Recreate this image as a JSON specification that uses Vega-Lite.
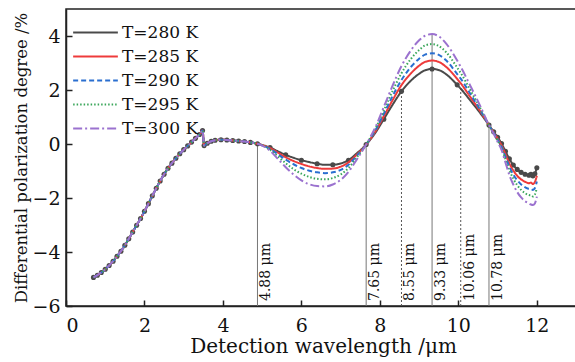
{
  "$schema": "https://vega.github.io/schema/vega-lite/v6.json",
  "width": 514,
  "height": 297,
  "autosize": {"type": "none"},
  "padding": {"left": 66, "top": 9, "right": 0, "bottom": 56},
  "config": {
    "font": "DejaVu Serif",
    "view": {"stroke": "#222", "strokeWidth": 1.5},
    "axis": {"grid": false, "domainColor": "#222", "domainWidth": 1.5, "tickColor": "#222", "tickWidth": 1.5, "labelColor": "#111", "titleColor": "#111", "labelFont": "DejaVu Serif", "titleFont": "DejaVu Serif", "labelFontSize": 19, "titleFontWeight": "normal", "tickSize": -6},
    "legend": {"labelFont": "DejaVu Serif"},
    "text": {"font": "DejaVu Serif"}
  },
  "datasets": {
    "curves": [
      {"x": 0.70, "m": 1, "t280": -4.94, "t285": -4.94, "t290": -4.94, "t295": -4.94, "t300": -4.94},
      {"x": 0.80, "m": 1, "t280": -4.86, "t285": -4.86, "t290": -4.86, "t295": -4.86, "t300": -4.86},
      {"x": 0.90, "m": 1, "t280": -4.76, "t285": -4.76, "t290": -4.76, "t295": -4.76, "t300": -4.76},
      {"x": 1.00, "m": 1, "t280": -4.64, "t285": -4.64, "t290": -4.64, "t295": -4.64, "t300": -4.64},
      {"x": 1.10, "m": 1, "t280": -4.50, "t285": -4.50, "t290": -4.50, "t295": -4.50, "t300": -4.50},
      {"x": 1.20, "m": 1, "t280": -4.34, "t285": -4.34, "t290": -4.34, "t295": -4.34, "t300": -4.34},
      {"x": 1.30, "m": 1, "t280": -4.16, "t285": -4.16, "t290": -4.16, "t295": -4.16, "t300": -4.16},
      {"x": 1.40, "m": 1, "t280": -3.97, "t285": -3.97, "t290": -3.97, "t295": -3.97, "t300": -3.97},
      {"x": 1.50, "m": 1, "t280": -3.75, "t285": -3.75, "t290": -3.75, "t295": -3.75, "t300": -3.75},
      {"x": 1.60, "m": 1, "t280": -3.51, "t285": -3.51, "t290": -3.51, "t295": -3.51, "t300": -3.51},
      {"x": 1.70, "m": 1, "t280": -3.26, "t285": -3.26, "t290": -3.26, "t295": -3.26, "t300": -3.26},
      {"x": 1.80, "m": 1, "t280": -3.01, "t285": -3.01, "t290": -3.01, "t295": -3.01, "t300": -3.01},
      {"x": 1.90, "m": 1, "t280": -2.76, "t285": -2.76, "t290": -2.76, "t295": -2.76, "t300": -2.76},
      {"x": 2.00, "m": 1, "t280": -2.49, "t285": -2.49, "t290": -2.49, "t295": -2.49, "t300": -2.49},
      {"x": 2.10, "m": 1, "t280": -2.21, "t285": -2.21, "t290": -2.21, "t295": -2.21, "t300": -2.21},
      {"x": 2.20, "m": 1, "t280": -1.92, "t285": -1.92, "t290": -1.92, "t295": -1.92, "t300": -1.92},
      {"x": 2.30, "m": 1, "t280": -1.64, "t285": -1.64, "t290": -1.64, "t295": -1.64, "t300": -1.64},
      {"x": 2.40, "m": 1, "t280": -1.37, "t285": -1.37, "t290": -1.37, "t295": -1.37, "t300": -1.37},
      {"x": 2.50, "m": 1, "t280": -1.12, "t285": -1.12, "t290": -1.12, "t295": -1.12, "t300": -1.12},
      {"x": 2.60, "m": 1, "t280": -0.90, "t285": -0.90, "t290": -0.90, "t295": -0.90, "t300": -0.90},
      {"x": 2.70, "m": 1, "t280": -0.71, "t285": -0.71, "t290": -0.71, "t295": -0.71, "t300": -0.71},
      {"x": 2.80, "m": 1, "t280": -0.53, "t285": -0.53, "t290": -0.53, "t295": -0.53, "t300": -0.53},
      {"x": 2.90, "m": 1, "t280": -0.36, "t285": -0.36, "t290": -0.36, "t295": -0.36, "t300": -0.36},
      {"x": 3.00, "m": 1, "t280": -0.21, "t285": -0.21, "t290": -0.21, "t295": -0.21, "t300": -0.21},
      {"x": 3.10, "m": 1, "t280": -0.07, "t285": -0.07, "t290": -0.07, "t295": -0.07, "t300": -0.07},
      {"x": 3.20, "m": 1, "t280": 0.07, "t285": 0.07, "t290": 0.07, "t295": 0.07, "t300": 0.07},
      {"x": 3.30, "m": 1, "t280": 0.21, "t285": 0.21, "t290": 0.21, "t295": 0.21, "t300": 0.21},
      {"x": 3.40, "m": 1, "t280": 0.35, "t285": 0.35, "t290": 0.35, "t295": 0.35, "t300": 0.35},
      {"x": 3.48, "m": 1, "t280": 0.50, "t285": 0.50, "t290": 0.50, "t295": 0.50, "t300": 0.50},
      {"x": 3.52, "m": 1, "t280": -0.06, "t285": -0.06, "t290": -0.06, "t295": -0.06, "t300": -0.06},
      {"x": 3.60, "m": 1, "t280": 0.03, "t285": 0.03, "t290": 0.03, "t295": 0.03, "t300": 0.03},
      {"x": 3.70, "m": 1, "t280": 0.10, "t285": 0.10, "t290": 0.10, "t295": 0.10, "t300": 0.10},
      {"x": 3.80, "m": 1, "t280": 0.14, "t285": 0.14, "t290": 0.14, "t295": 0.14, "t300": 0.14},
      {"x": 3.95, "m": 1, "t280": 0.16, "t285": 0.16, "t290": 0.16, "t295": 0.16, "t300": 0.16},
      {"x": 4.10, "m": 1, "t280": 0.15, "t285": 0.15, "t290": 0.15, "t295": 0.15, "t300": 0.15},
      {"x": 4.25, "m": 1, "t280": 0.13, "t285": 0.13, "t290": 0.13, "t295": 0.13, "t300": 0.13},
      {"x": 4.40, "m": 1, "t280": 0.11, "t285": 0.11, "t290": 0.11, "t295": 0.11, "t300": 0.11},
      {"x": 4.55, "m": 1, "t280": 0.09, "t285": 0.09, "t290": 0.09, "t295": 0.09, "t300": 0.09},
      {"x": 4.70, "m": 1, "t280": 0.06, "t285": 0.06, "t290": 0.06, "t295": 0.06, "t300": 0.06},
      {"x": 4.88, "m": 1, "t280": 0.01, "t285": 0.01, "t290": 0.01, "t295": 0.01, "t300": 0.01},
      {"x": 5.0, "m": 0, "t280": -0.04, "t285": -0.04, "t290": -0.05, "t295": -0.05, "t300": -0.06},
      {"x": 5.2, "m": 1, "t280": -0.13, "t285": -0.15, "t290": -0.18, "t295": -0.21, "t300": -0.25},
      {"x": 5.4, "m": 0, "t280": -0.27, "t285": -0.32, "t290": -0.38, "t295": -0.46, "t300": -0.55},
      {"x": 5.6, "m": 1, "t280": -0.40, "t285": -0.49, "t290": -0.58, "t295": -0.71, "t300": -0.86},
      {"x": 5.8, "m": 0, "t280": -0.51, "t285": -0.63, "t290": -0.75, "t295": -0.93, "t300": -1.13},
      {"x": 6.0, "m": 1, "t280": -0.60, "t285": -0.74, "t290": -0.89, "t295": -1.10, "t300": -1.35},
      {"x": 6.2, "m": 0, "t280": -0.67, "t285": -0.83, "t290": -0.99, "t295": -1.22, "t300": -1.49},
      {"x": 6.4, "m": 1, "t280": -0.73, "t285": -0.89, "t290": -1.05, "t295": -1.29, "t300": -1.56},
      {"x": 6.6, "m": 0, "t280": -0.77, "t285": -0.92, "t290": -1.08, "t295": -1.31, "t300": -1.57},
      {"x": 6.8, "m": 1, "t280": -0.77, "t285": -0.91, "t290": -1.05, "t295": -1.26, "t300": -1.50},
      {"x": 7.0, "m": 0, "t280": -0.72, "t285": -0.84, "t290": -0.96, "t295": -1.13, "t300": -1.33},
      {"x": 7.2, "m": 1, "t280": -0.60, "t285": -0.68, "t290": -0.77, "t295": -0.89, "t300": -1.03},
      {"x": 7.4, "m": 0, "t280": -0.36, "t285": -0.41, "t290": -0.45, "t295": -0.52, "t300": -0.60},
      {"x": 7.65, "m": 1, "t280": -0.02, "t285": -0.02, "t290": -0.02, "t295": -0.02, "t300": -0.02},
      {"x": 7.9, "m": 0, "t280": 0.45, "t285": 0.50, "t290": 0.55, "t295": 0.61, "t300": 0.67},
      {"x": 8.1, "m": 1, "t280": 0.92, "t285": 1.03, "t290": 1.12, "t295": 1.24, "t300": 1.37},
      {"x": 8.3, "m": 0, "t280": 1.40, "t285": 1.56, "t290": 1.71, "t295": 1.89, "t300": 2.08},
      {"x": 8.55, "m": 1, "t280": 1.95, "t285": 2.18, "t290": 2.37, "t295": 2.62, "t300": 2.89},
      {"x": 8.8, "m": 0, "t280": 2.36, "t285": 2.63, "t290": 2.87, "t295": 3.17, "t300": 3.49},
      {"x": 9.0, "m": 0, "t280": 2.60, "t285": 2.90, "t290": 3.16, "t295": 3.48, "t300": 3.84},
      {"x": 9.15, "m": 0, "t280": 2.73, "t285": 3.04, "t290": 3.31, "t295": 3.65, "t300": 4.01},
      {"x": 9.33, "m": 1, "t280": 2.78, "t285": 3.09, "t290": 3.36, "t295": 3.70, "t300": 4.07},
      {"x": 9.5, "m": 0, "t280": 2.74, "t285": 3.04, "t290": 3.30, "t295": 3.63, "t300": 3.99},
      {"x": 9.7, "m": 0, "t280": 2.57, "t285": 2.84, "t290": 3.08, "t295": 3.38, "t300": 3.70},
      {"x": 9.97, "m": 1, "t280": 2.19, "t285": 2.41, "t290": 2.59, "t295": 2.83, "t300": 3.09},
      {"x": 10.06, "m": 0, "t280": 2.05, "t285": 2.25, "t290": 2.42, "t295": 2.63, "t300": 2.86},
      {"x": 10.3, "m": 0, "t280": 1.62, "t285": 1.75, "t290": 1.87, "t295": 2.01, "t300": 2.17},
      {"x": 10.55, "m": 0, "t280": 1.16, "t285": 1.23, "t290": 1.28, "t295": 1.35, "t300": 1.43},
      {"x": 10.78, "m": 1, "t280": 0.70, "t285": 0.70, "t290": 0.70, "t295": 0.70, "t300": 0.70},
      {"x": 10.9, "m": 1, "t280": 0.45, "t285": 0.43, "t290": 0.42, "t295": 0.40, "t300": 0.38},
      {"x": 11.0, "m": 1, "t280": 0.25, "t285": 0.20, "t290": 0.17, "t295": 0.13, "t300": 0.08},
      {"x": 11.1, "m": 1, "t280": 0.02, "t285": -0.05, "t290": -0.10, "t295": -0.15, "t300": -0.22},
      {"x": 11.2, "m": 1, "t280": -0.27, "t285": -0.38, "t290": -0.47, "t295": -0.56, "t300": -0.68},
      {"x": 11.3, "m": 1, "t280": -0.55, "t285": -0.72, "t290": -0.84, "t295": -0.97, "t300": -1.15},
      {"x": 11.4, "m": 1, "t280": -0.78, "t285": -0.98, "t290": -1.13, "t295": -1.28, "t300": -1.50},
      {"x": 11.5, "m": 1, "t280": -0.94, "t285": -1.18, "t290": -1.34, "t295": -1.53, "t300": -1.78},
      {"x": 11.6, "m": 1, "t280": -1.05, "t285": -1.31, "t290": -1.50, "t295": -1.70, "t300": -1.98},
      {"x": 11.7, "m": 1, "t280": -1.12, "t285": -1.40, "t290": -1.60, "t295": -1.82, "t300": -2.12},
      {"x": 11.8, "m": 1, "t280": -1.16, "t285": -1.45, "t290": -1.66, "t295": -1.89, "t300": -2.20},
      {"x": 11.85, "m": 1, "t280": -1.12, "t285": -1.43, "t290": -1.66, "t295": -1.90, "t300": -2.24},
      {"x": 11.9, "m": 1, "t280": -1.18, "t285": -1.48, "t290": -1.70, "t295": -1.94, "t300": -2.26},
      {"x": 11.95, "m": 1, "t280": -1.10, "t285": -1.41, "t290": -1.63, "t295": -1.87, "t300": -2.20},
      {"x": 12.0, "m": 1, "t280": -0.88, "t285": -1.18, "t290": -1.39, "t295": -1.63, "t300": -1.95}
    ],
    "rules": [
      {"x": 4.88, "bottom": -6, "top": 0.01, "dash": "solid", "label": "4.88 μm"},
      {"x": 7.65, "bottom": -6, "top": -0.02, "dash": "solid", "label": "7.65 μm"},
      {"x": 8.55, "bottom": -6, "top": 1.95, "dash": "dotted", "label": "8.55 μm"},
      {"x": 9.33, "bottom": -6, "top": 4.07, "dash": "solid", "label": "9.33 μm"},
      {"x": 10.06, "bottom": -6, "top": 2.05, "dash": "dotted", "label": "10.06 μm"},
      {"x": 10.78, "bottom": -6, "top": 0.70, "dash": "solid", "label": "10.78 μm"}
    ]
  },
  "layer": [
    {
      "data": {"name": "rules"},
      "transform": [{"filter": "datum.dash == 'solid'"}],
      "mark": {"type": "rule", "color": "#777", "strokeWidth": 1},
      "encoding": {
        "x": {"field": "x", "type": "quantitative"},
        "y": {"field": "bottom", "type": "quantitative"},
        "y2": {"field": "top"}
      }
    },
    {
      "data": {"name": "rules"},
      "transform": [{"filter": "datum.dash == 'dotted'"}],
      "mark": {"type": "rule", "color": "#555", "strokeWidth": 1, "strokeDash": [2, 2]},
      "encoding": {
        "x": {"field": "x", "type": "quantitative"},
        "y": {"field": "bottom", "type": "quantitative"},
        "y2": {"field": "top"}
      }
    },
    {
      "data": {"name": "rules"},
      "mark": {"type": "text", "angle": 270, "align": "left", "baseline": "top", "dx": 5, "dy": 2, "fontSize": 14, "font": "DejaVu Serif", "color": "#111"},
      "encoding": {
        "x": {"field": "x", "type": "quantitative"},
        "y": {"field": "bottom", "type": "quantitative"},
        "text": {"field": "label", "type": "nominal"}
      }
    },
    {
      "data": {"name": "curves"},
      "transform": [
        {"fold": ["t280", "t285", "t290", "t295", "t300"], "as": ["T", "y"]},
        {"filter": "datum.T == 't280' && datum.m == 1"}
      ],
      "mark": {"type": "point", "filled": true, "size": 26, "color": "#4a4a4a", "opacity": 1},
      "encoding": {
        "x": {"field": "x", "type": "quantitative"},
        "y": {"field": "y", "type": "quantitative"}
      }
    },
    {
      "data": {"name": "curves"},
      "transform": [
        {"fold": ["t280", "t285", "t290", "t295", "t300"], "as": ["T", "y"]}
      ],
      "mark": {"type": "line", "interpolate": "monotone", "strokeWidth": 2},
      "encoding": {
        "x": {"field": "x", "type": "quantitative", "scale": {"domain": [0, 13.1], "nice": false}, "axis": {"values": [0, 2, 4, 6, 8, 10, 12], "title": "Detection wavelength /μm", "titleFontSize": 20, "labelPadding": 16, "titlePadding": 1}},
        "y": {"field": "y", "type": "quantitative", "scale": {"domain": [-6, 5], "nice": false}, "axis": {"values": [-6, -4, -2, 0, 2, 4], "title": "Differential polarization degree /%", "titleFontSize": 16.5, "labelPadding": 12, "titlePadding": 2}},
        "color": {"field": "T", "type": "nominal", "scale": {"domain": ["t280", "t285", "t290", "t295", "t300"], "range": ["#4a4a4a", "#ee3b3b", "#2a6fd0", "#3aa65a", "#9b72cf"]}, "legend": {"title": null, "orient": "none", "legendX": 6, "legendY": 12, "labelExpr": "'T=' + slice(datum.label, 1) + ' K'", "labelFont": "DejaVu Serif", "labelFontSize": 17, "labelColor": "#111", "symbolType": "stroke", "symbolSize": 2000, "symbolStrokeWidth": 2, "clipHeight": 23, "rowPadding": 1, "labelOffset": 3, "padding": 0}},
        "strokeDash": {"field": "T", "type": "nominal", "scale": {"domain": ["t280", "t285", "t290", "t295", "t300"], "range": [[1, 0], [1, 0], [5, 3], [1.5, 2], [9, 3, 2, 3]]}, "legend": {"title": null, "orient": "none", "legendX": 6, "legendY": 12, "labelExpr": "'T=' + slice(datum.label, 1) + ' K'", "labelFont": "DejaVu Serif", "labelFontSize": 17, "labelColor": "#111", "symbolType": "stroke", "symbolSize": 2000, "symbolStrokeWidth": 2, "clipHeight": 23, "rowPadding": 1, "labelOffset": 3, "padding": 0}}
      }
    }
  ]
}
